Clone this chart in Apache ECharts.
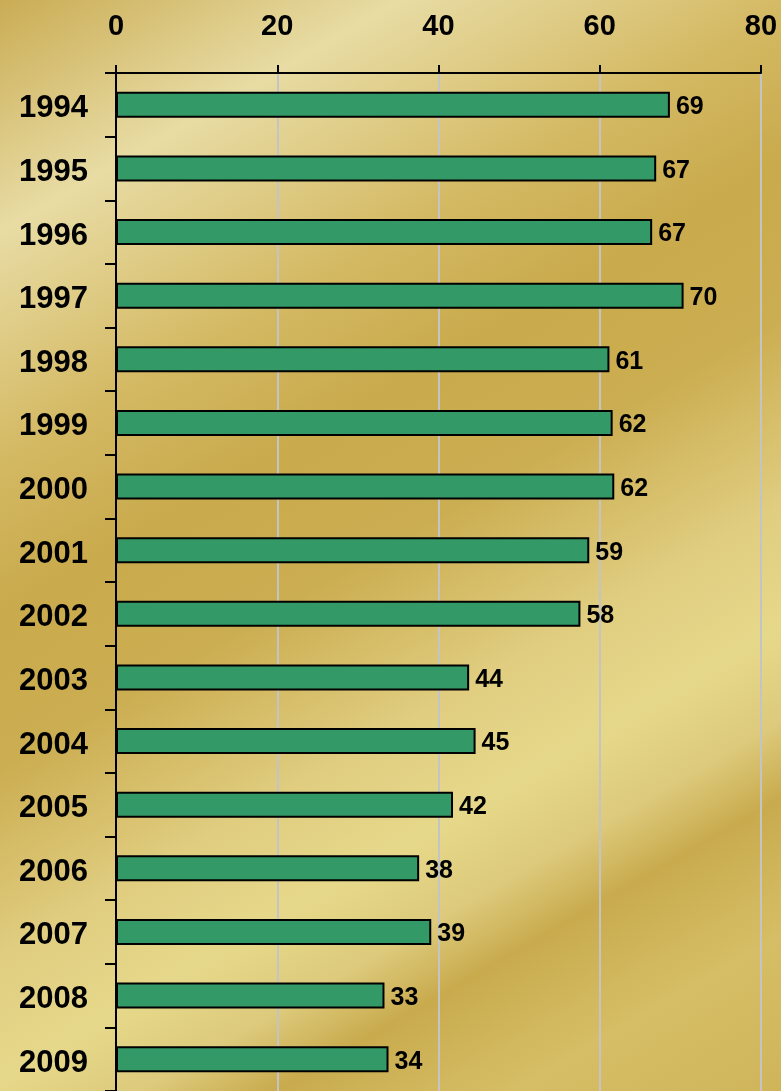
<!DOCTYPE html>
<html>
<head>
<meta charset="utf-8">
<script src="https://cdn.jsdelivr.net/npm/echarts@6/dist/echarts.min.js"></script>
<style>
    html, body { margin: 0; padding: 0; }
    #chartContainer { width: 781px; height: 1091px; }
</style>
</head>
<body>
<div id="chartContainer"></div>
<script>
const years = ['1994', '1995', '1996', '1997', '1998', '1999', '2000', '2001',
    '2002', '2003', '2004', '2005', '2006', '2007', '2008', '2009'];
const values = [68.7, 67.0, 66.5, 70.4, 61.2, 61.6, 61.8, 58.7,
    57.6, 43.8, 44.6, 41.8, 37.6, 39.1, 33.3, 33.8];
const xTicks = [0, 20, 40, 60, 80];

const font = '"Liberation Sans", Arial, sans-serif';

// gold sheen, stripes rising to the right
const goldBg = new echarts.graphic.LinearGradient(0, 0, 668, 1156, [
    { offset: 0, color: '#caac54' },
    { offset: 0.15, color: '#e8dca4' },
    { offset: 0.3, color: '#d4b963' },
    { offset: 0.4, color: '#c9aa4c' },
    { offset: 0.5, color: '#ccae52' },
    { offset: 0.62, color: '#e0cd80' },
    { offset: 0.7, color: '#e6d88a' },
    { offset: 0.76, color: '#ddca7c' },
    { offset: 0.81, color: '#c9ab4e' },
    { offset: 0.9, color: '#d6be66' },
    { offset: 1, color: '#cfb45a' }
], true);

const chart = echarts.init(document.getElementById('chartContainer'));

chart.setOption({
    backgroundColor: goldBg,
    animation: false,
    grid: { left: 116, right: 20, top: 73, height: 1021 },
    xAxis: {
        type: 'value',
        position: 'top',
        min: xTicks[0],
        max: xTicks[xTicks.length - 1],
        interval: 20,
        axisLine: { show: true, lineStyle: { color: '#000', width: 2 } },
        axisTick: { show: true, length: 8, lineStyle: { color: '#000', width: 2 } },
        axisLabel: {
            color: '#000', fontFamily: font, fontWeight: 'bold', fontSize: 29, margin: 32
        },
        splitLine: { show: true, lineStyle: { color: '#c4c4c4', width: 2 } }
    },
    yAxis: {
        type: 'category',
        inverse: true,
        data: years,
        axisLine: { show: true, lineStyle: { color: '#000', width: 2 } },
        axisTick: { show: true, length: 11, lineStyle: { color: '#000', width: 2 } },
        axisLabel: {
            margin: 28,
            formatter: v => '{y|' + v + '}',
            rich: {
                y: {
                    color: '#000', fontFamily: font, fontWeight: 'bold', fontSize: 31,
                    padding: [8, 0, 0, 0]
                }
            }
        },
        splitLine: { show: false }
    },
    series: [{
        type: 'bar',
        data: values,
        barWidth: 26,
        itemStyle: { color: '#339966', borderColor: '#000', borderWidth: 2 },
        label: {
            show: true,
            position: 'right',
            distance: 6,
            formatter: p => '{v|' + Math.round(p.value) + '}',
            rich: {
                v: {
                    color: '#000', fontFamily: font, fontWeight: 'bold', fontSize: 25,
                    padding: [5, 0, 0, 0]
                }
            }
        }
    }]
});
</script>
</body>
</html>
